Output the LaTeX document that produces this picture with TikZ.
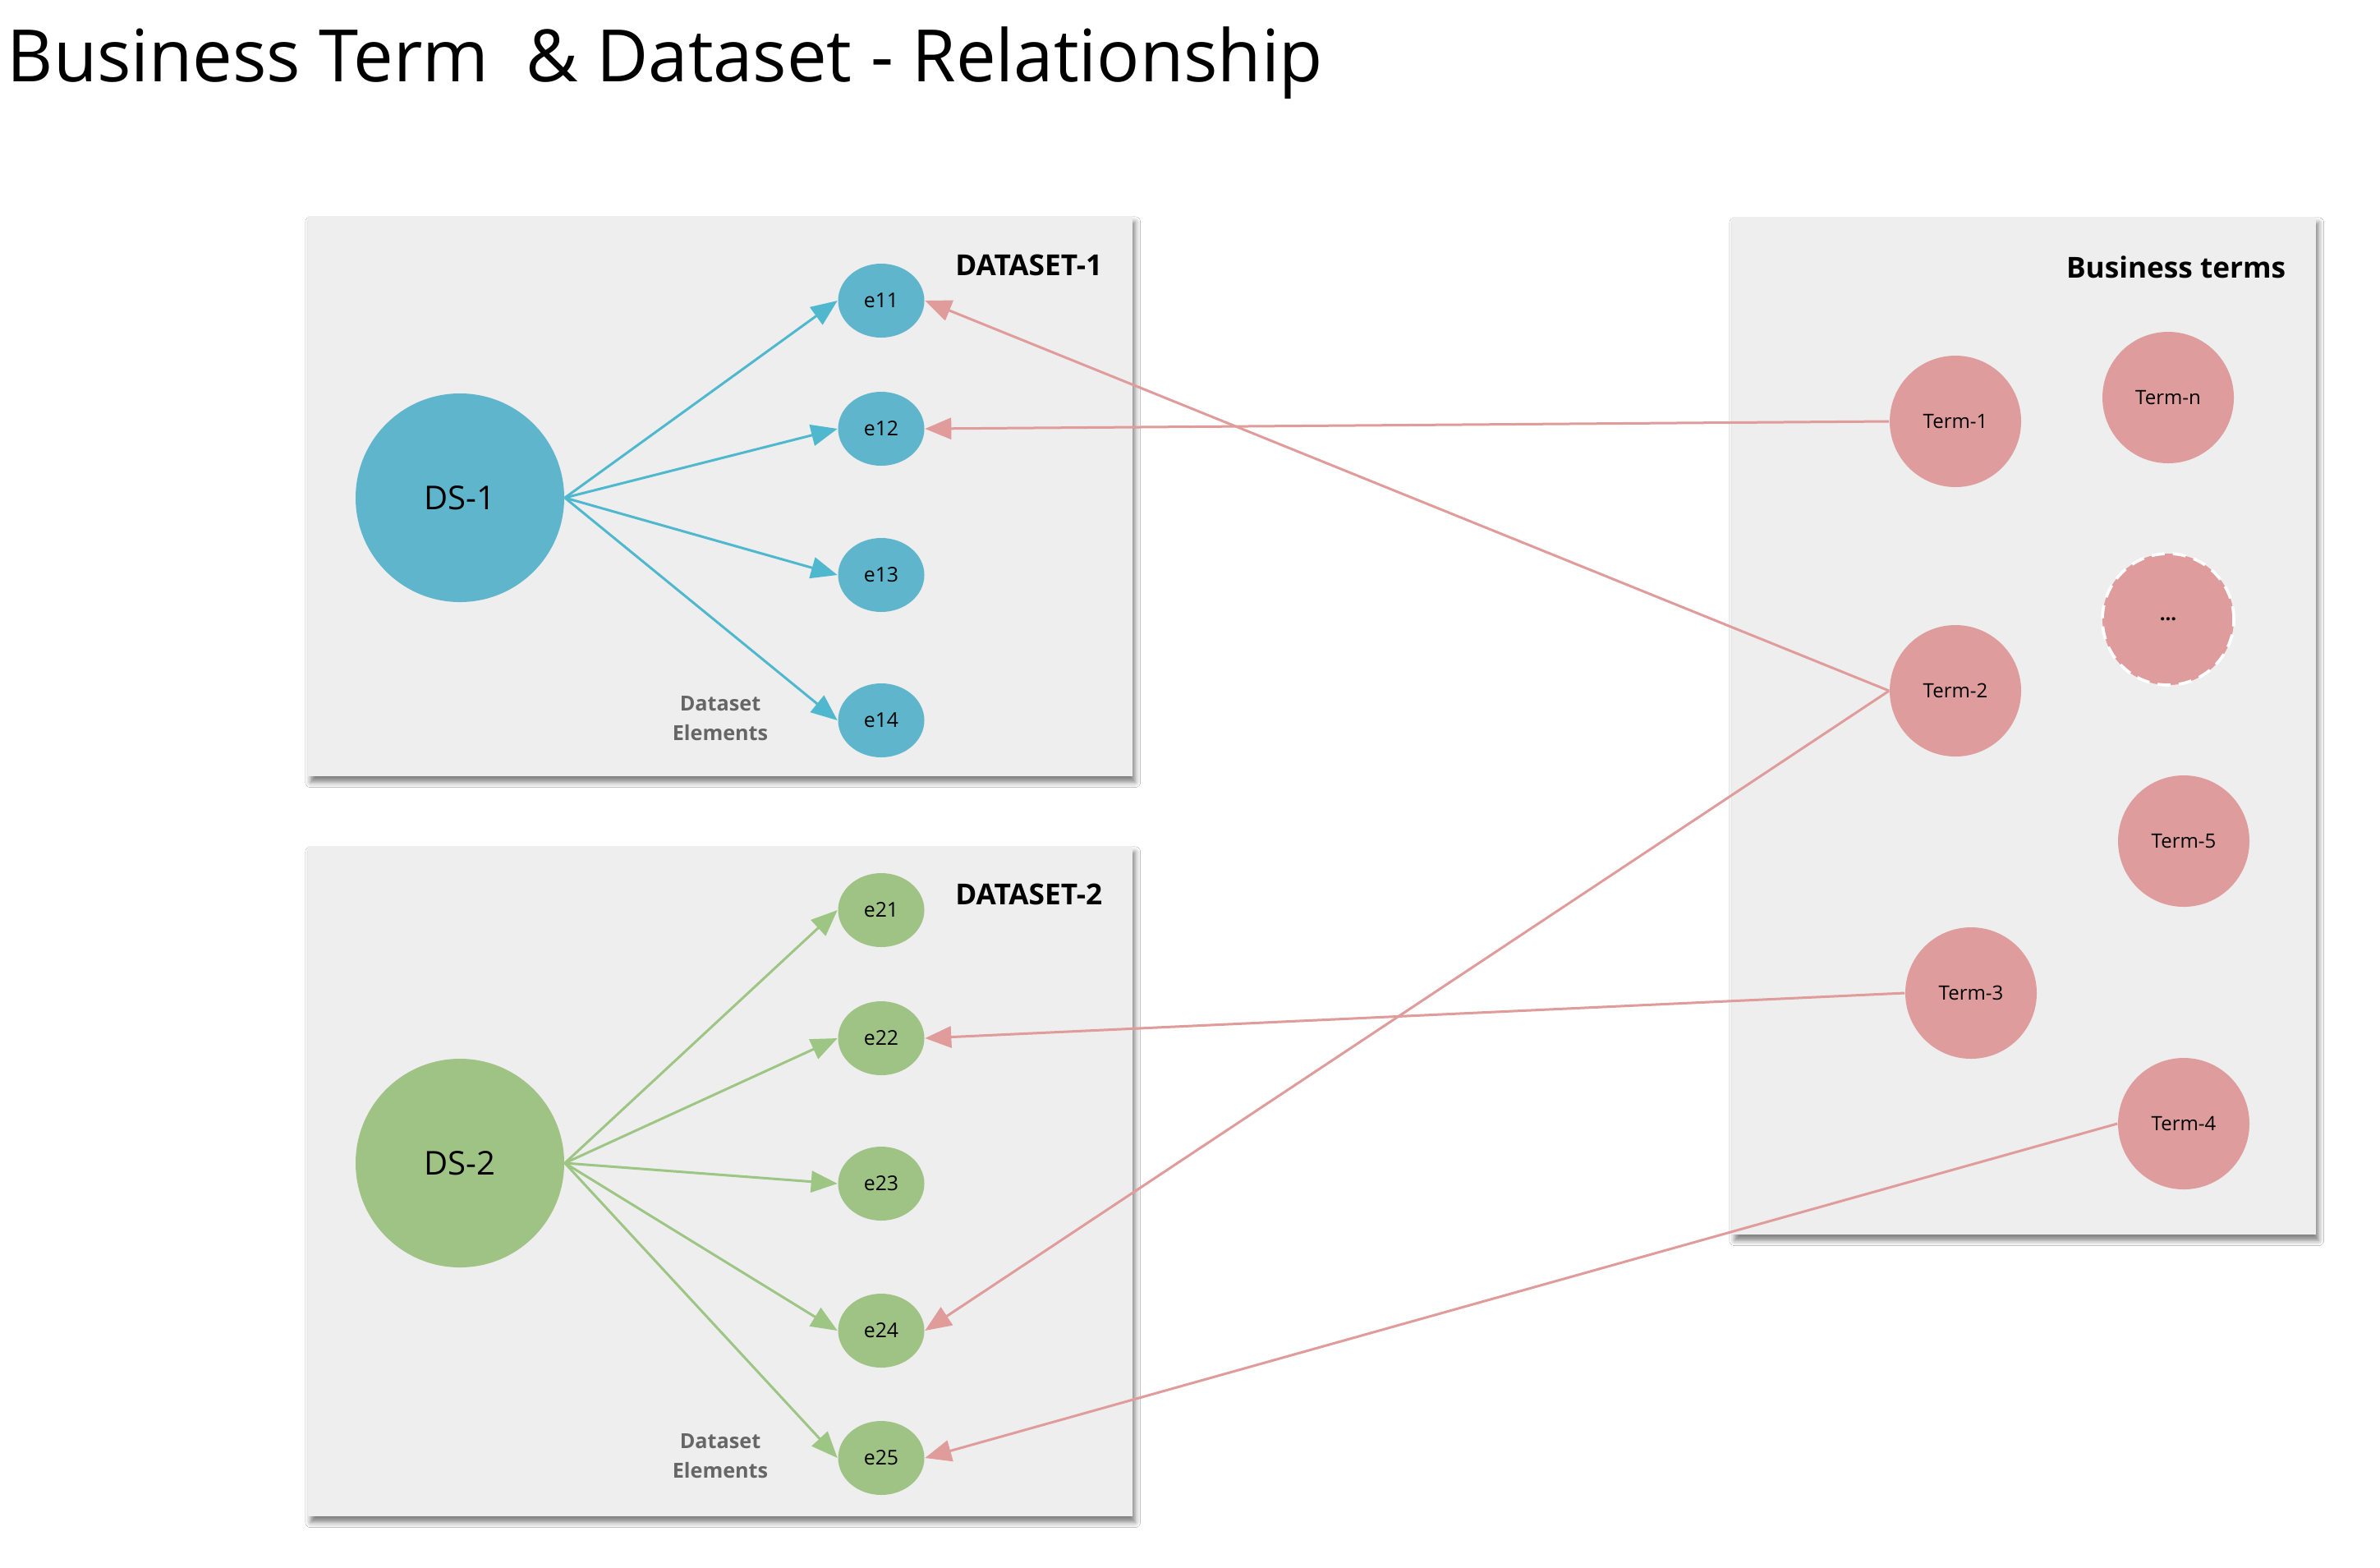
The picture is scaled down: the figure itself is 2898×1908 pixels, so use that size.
\documentclass[tikz,border=0pt]{standalone}
\usepackage{fontspec}
\setmainfont{Open Sans}
\usetikzlibrary{arrows.meta,shapes.geometric,shadows.blur}
\definecolor{cyanf}{HTML}{5FB6CC}
\definecolor{cyanl}{HTML}{4FB8CE}
\definecolor{greenf}{HTML}{9FC385}
\definecolor{greenl}{HTML}{9DC584}
\definecolor{pinkf}{HTML}{DF9C9C}
\definecolor{pinkl}{HTML}{E09B9B}
\definecolor{panelf}{HTML}{EEEEEE}
\definecolor{grayt}{HTML}{666666}
\tikzset{
  panel/.style={fill=panelf, draw=none, inner sep=0pt,
    blur shadow={shadow xshift=0.8pt, shadow yshift=-1.8pt, shadow blur radius=1.6pt, shadow opacity=50}},
  dsnode/.style={circle, minimum size=63.5pt, inner sep=0pt, font=\fontsize{10}{12}\selectfont},
  elnode/.style={ellipse, minimum width=26.25pt, minimum height=22.5pt, inner sep=0pt, font=\fontsize{6.2}{7}\selectfont},
  termnode/.style={circle, minimum size=40pt, inner sep=0pt, fill=pinkf, font=\fontsize{6}{7}\selectfont},
  headtext/.style={anchor=east, inner sep=0pt, font=\bfseries\fontsize{8.8}{10}\selectfont},
  eltext/.style={align=center, inner sep=0pt, text=grayt, font=\bfseries\fontsize{6.3}{9}\selectfont},
  tipshape/.style={-{Triangle[length=8pt,width=6.5pt]}},
  cyanarr/.style={tipshape, draw=cyanl, line width=0.75pt},
  greenarr/.style={tipshape, draw=greenl, line width=0.75pt},
  pinkarr/.style={tipshape, draw=pinkl, line width=0.75pt},
}
\begin{document}
\begin{tikzpicture}[x=0.25pt,y=-0.25pt]
\useasboundingbox (0,0) rectangle (2898,1908);
\fill[white] (0,0) rectangle (2898,1908);

% title
\node[anchor=base west, inner sep=0pt, font=\fontsize{22}{26}\selectfont] (title) at (8,99) {\scalebox{0.986}[1]{Business Term\ \ \& Dataset - Relationship}};

% panels
\node[panel, minimum width=251pt, minimum height=170.5pt] (p1) at (877,604) {};
\node[panel, minimum width=251pt, minimum height=204pt] (p2) at (877,1438) {};
\node[panel, minimum width=177.75pt, minimum height=309.75pt] (p3) at (2464.5,883.5) {};

% headings
\node[headtext] (h1) at (1343,323) {DATASET-1};
\node[headtext] (h2) at (1343,1089) {DATASET-2};
\node[headtext] (h3) at (2784,325) {Business terms};
\node[eltext] (de1) at (877,875) {Dataset\\Elements};
\node[eltext] (de2) at (877,1773) {Dataset\\Elements};

% dataset 1
\node[dsnode, fill=cyanf] (ds1) at (560,606) {DS-1};
\node[elnode, fill=cyanf] (e11) at (1073,366) {e11};
\node[elnode, fill=cyanf] (e12) at (1073,522) {e12};
\node[elnode, fill=cyanf] (e13) at (1073,700) {e13};
\node[elnode, fill=cyanf] (e14) at (1073,877) {e14};

% dataset 2
\node[dsnode, fill=greenf] (ds2) at (560,1416) {DS-2};
\node[elnode, fill=greenf] (e21) at (1073,1108) {e21};
\node[elnode, fill=greenf] (e22) at (1073,1264) {e22};
\node[elnode, fill=greenf] (e23) at (1073,1441) {e23};
\node[elnode, fill=greenf] (e24) at (1073,1620) {e24};
\node[elnode, fill=greenf] (e25) at (1073,1775) {e25};

% business terms
\node[termnode] (t1) at (2381,513) {Term-1};
\node[termnode] (tn) at (2640,484) {Term-n};
\node[termnode, draw=white, dashed, line width=0.9pt, dash pattern=on 4pt off 2.5pt] (tdots) at (2640,754) {\bfseries ...};
\node[termnode] (t2) at (2381,841) {Term-2};
\node[termnode] (t5) at (2659,1024) {Term-5};
\node[termnode] (t3) at (2400,1209) {Term-3};
\node[termnode] (t4) at (2659,1368) {Term-4};

% dataset arrows
\foreach \e in {e11,e12,e13,e14} \draw[cyanarr] (ds1.east) -- (\e.west);
\foreach \e in {e21,e22,e23,e24,e25} \draw[greenarr] (ds2.east) -- (\e.west);

% term arrows
\draw[pinkarr] (t1.west) -- (e12.east);
\draw[pinkarr] (t2.west) -- (e11.east);
\draw[pinkarr] (t2.west) -- (e24.east);
\draw[pinkarr] (t3.west) -- (e22.east);
\draw[pinkarr] (t4.west) -- (e25.east);
\end{tikzpicture}
\end{document}
